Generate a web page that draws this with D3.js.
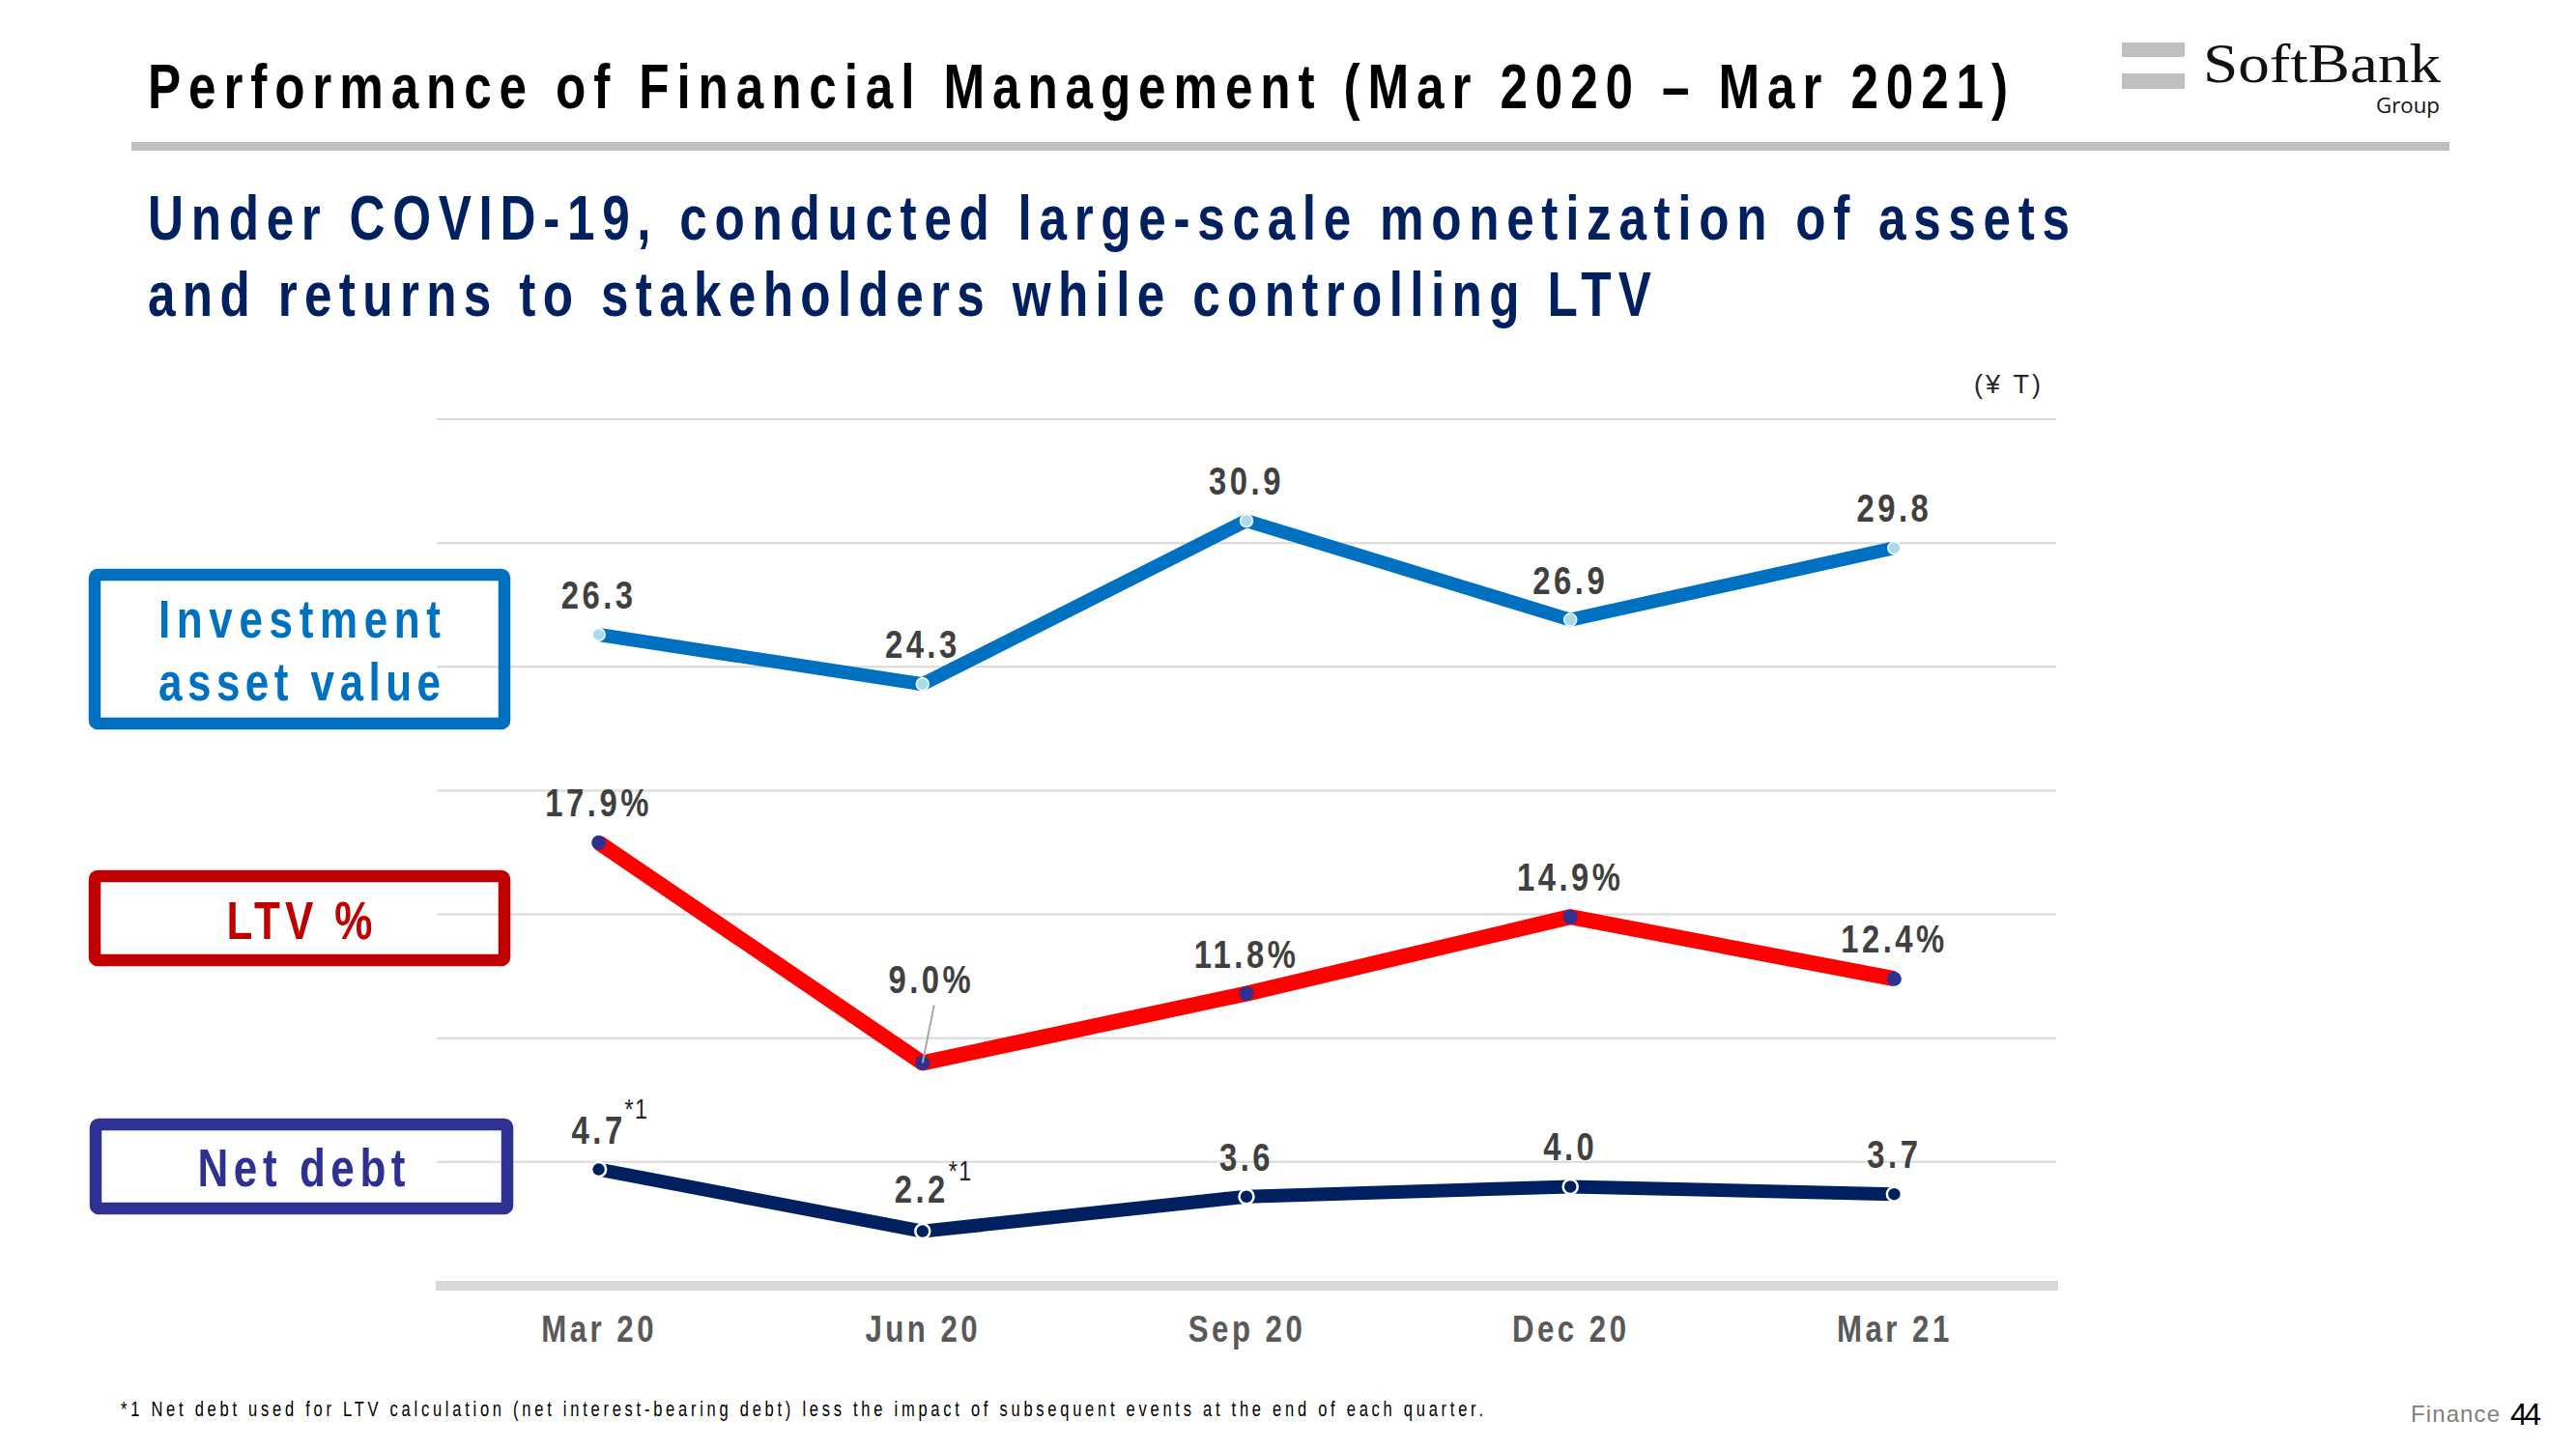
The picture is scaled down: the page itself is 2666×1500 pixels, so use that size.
<!DOCTYPE html>
<html><head><meta charset="utf-8">
<script src="https://cdn.jsdelivr.net/npm/d3@7"></script>
<style>
html,body{margin:0;padding:0;background:#fff;}
svg{display:block;}
</style></head>
<body>
<script>
const categories = ["Mar 20","Jun 20","Sep 20","Dec 20","Mar 21"];
const investment = [26.3,24.3,30.9,26.9,29.8];
const ltv = [17.9,9.0,11.8,14.9,12.4];
const netDebt = [4.7,2.2,3.6,4.0,3.7];
const yTicks = [0,5,10,15,20,25,30,35];
const investLabels = ["26.3","24.3","30.9","26.9","29.8"];
const ltvLabels = ["17.9%","9.0%","11.8%","14.9%","12.4%"];
const debtLabels = ["4.7","2.2","3.6","4.0","3.7"];
const debtNotes = ["*1","*1","","",""];

const W=2666,H=1500;
const SANS = "'Liberation Sans',Arial,sans-serif";
const SX = 0.8;
const svg=d3.select("body").append("svg").attr("width",W).attr("height",H);

// condensed text helper: narrow glyphs + spacing
function ctext(parent,x,y,str,o){
  const sx=o.sx||SX;
  const g=parent.append("g").attr("transform",`translate(${x},${y}) scale(${sx},1)`);
  const t=g.append("text").attr("x",0).attr("y",0).attr("text-anchor",o.anchor||"start")
    .attr("font-family",SANS).attr("font-weight",o.weight||"normal").attr("font-size",o.size)
    .attr("fill",o.fill||"#000").text(str);
  if(o.width) t.attr("textLength",o.width/sx).attr("lengthAdjust","spacing");
  else if(o.ls!=null) t.attr("letter-spacing",o.ls/sx);
  return t;
}

const x=d3.scalePoint().domain(categories).range([452,2128]).padding(0.5);
const y=d3.scaleLinear().domain([0,35]).range([1331,434]);

// Title
ctext(svg,153,112,"Performance of Financial Management (Mar 2020 \u2013 Mar 2021)",{size:64,weight:"bold",fill:"#000",width:1925});
svg.append("rect").attr("x",136).attr("y",147).attr("width",2399).attr("height",9).attr("fill","#BFBFBF");

// Logo
svg.append("rect").attr("x",2196).attr("y",44).attr("width",65).attr("height",15).attr("fill","#BFBFBF");
svg.append("rect").attr("x",2196).attr("y",76).attr("width",65).attr("height",16).attr("fill","#BFBFBF");
svg.append("text").attr("x",2280).attr("y",85).attr("font-family","'Liberation Serif','Times New Roman',serif")
  .attr("font-size",57).attr("fill","#111").attr("textLength",246).attr("lengthAdjust","spacingAndGlyphs").text("SoftBank");
svg.append("text").attr("x",2459).attr("y",117).attr("font-family","'Open Sans',sans-serif")
  .attr("font-size",22).attr("fill","#111").attr("textLength",66).attr("lengthAdjust","spacingAndGlyphs").text("Group");

// Subtitle
ctext(svg,153,248,"Under COVID-19, conducted large-scale monetization of assets",{size:64,weight:"bold",fill:"#002060",width:1989});
ctext(svg,153,327,"and returns to stakeholders while controlling LTV",{size:64,weight:"bold",fill:"#002060",width:1556});

// Unit
svg.append("text").attr("x",2043).attr("y",407).attr("font-family",SANS)
  .attr("font-size",27).attr("fill","#262626").attr("textLength",69).attr("lengthAdjust","spacing").text("(\u00A5 T)");

// Gridlines
const g=svg.append("g");
g.selectAll("line.grid").data(yTicks.filter(t=>t>0)).enter().append("line")
  .attr("x1",452).attr("x2",2128).attr("y1",d=>y(d)).attr("y2",d=>y(d))
  .attr("stroke","#D9D9D9").attr("stroke-width",2);
g.append("line").attr("x1",451).attr("x2",2130).attr("y1",y(0)).attr("y2",y(0))
  .attr("stroke","#D9D9D9").attr("stroke-width",10);

// X axis labels
const xAxis=d3.axisBottom(x).tickSize(0).tickPadding(0);
const ax=svg.append("g").attr("transform","translate(0,1389)").call(xAxis);
ax.select(".domain").remove();
ax.selectAll("text").attr("dy",0).attr("y",0).attr("transform",`scale(${SX},1)`)
  .attr("font-family",SANS).attr("font-size",39).attr("fill","#595959")
  .attr("letter-spacing",3.5/SX).attr("style","font-weight:bold");

// Legend boxes
const boxes=[
  {x:98,y:595,w:424,h:154,c:"#0070C0",lines:[["Investment",660,292],["asset value",725,292]]},
  {x:98,y:907,w:424,h:87,c:"#C00000",lines:[["LTV %",972,151]]},
  {x:99,y:1164,w:426,h:87,c:"#2E3192",lines:[["Net debt",1228,215]]}
];
boxes.forEach(b=>{
  svg.append("rect").attr("x",b.x).attr("y",b.y).attr("width",b.w).attr("height",b.h)
    .attr("rx",3).attr("fill","none").attr("stroke",b.c).attr("stroke-width",12.5);
  b.lines.forEach(l=>{
    ctext(svg,b.x+b.w/2-l[2]/2,l[1],l[0],{size:55,weight:"bold",fill:b.c,width:l[2]});
  });
});

const line=d3.line().x((d,i)=>x(categories[i])).y(d=>y(d));
function series(vals,color,width,mFill,mStroke,mSw,r){
  svg.append("path").datum(vals).attr("d",line).attr("fill","none").attr("stroke",color)
    .attr("stroke-width",width).attr("stroke-linejoin","round");
  svg.append("g").selectAll("circle").data(vals).enter().append("circle")
    .attr("cx",(d,i)=>x(categories[i])).attr("cy",d=>y(d)).attr("r",r)
    .attr("fill",mFill).attr("stroke",mStroke).attr("stroke-width",mSw);
}
series(investment,"#0070C0",14,"#A9DCEB","#ffffff",1.5,6.5);
series(ltv,"#FF0000",16,"#2E3192","none",0,7.5);
series(netDebt,"#002060",14,"#002060","#ffffff",2.5,7.5);

function labels(vals,texts,offsets){
  const gg=svg.append("g");
  vals.forEach((d,i)=>{
    const o=offsets[i]||[0,0];
    ctext(gg,x(categories[i])+o[0],y(d)-27+o[1],texts[i],{size:41,weight:"bold",fill:"#404040",anchor:"middle",ls:3.5});
  });
}
labels(investment,investLabels,[]);
labels(ltv,ltvLabels,[null,[9,-45]]);
labels(netDebt,debtLabels,[null,[-1,-3]]);

// leader line for 9.0%
svg.append("line").attr("x1",x(categories[1])+12).attr("y1",y(ltv[1])-60)
  .attr("x2",x(categories[1])).attr("y2",y(ltv[1])).attr("stroke","#A6A6A6").attr("stroke-width",2);

// superscript notes
netDebt.forEach((d,i)=>{
  if(debtNotes[i]) ctext(svg,x(categories[i])+27,y(d)-53,debtNotes[i],{size:29,fill:"#262626",ls:1.5});
});

// Footnote
ctext(svg,125,1466,"*1 Net debt used for LTV calculation (net interest-bearing debt) less the impact of subsequent events at the end of each quarter.",{size:22,fill:"#000",width:1410,sx:0.75});

// Page footer
svg.append("text").attr("x",2495).attr("y",1472).attr("font-family",SANS)
  .attr("font-size",24).attr("fill","#808080").attr("textLength",92).attr("lengthAdjust","spacing").text("Finance");
svg.append("text").attr("x",2598).attr("y",1475).attr("font-family",SANS)
  .attr("font-size",32).attr("fill","#000").attr("textLength",32).attr("lengthAdjust","spacing").text("44");
</script>
</body></html>
